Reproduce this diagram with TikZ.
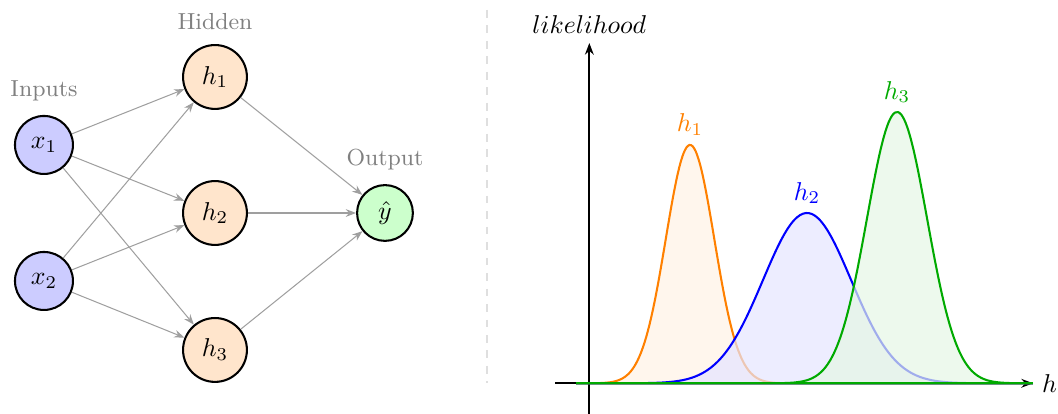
\documentclass[tikz,border=0pt]{standalone}
\usepackage{amsmath,amssymb}
\usepackage{tikz}
\usetikzlibrary{arrows.meta,positioning}
\definecolor{curvegreen}{RGB}{0,170,0}

\begin{document}
\begin{tikzpicture}[
    neuron/.style={circle, draw, thick, inner sep=0pt},
    inp/.style={neuron, fill=blue!20, minimum size=0.79cm},
    hid/.style={neuron, fill=orange!20, minimum size=0.87cm},
    outp/.style={neuron, fill=green!20, minimum size=0.76cm},
    layerlbl/.style={gray, font=\small},
    conn/.style={-{Stealth[length=4pt]}, gray!75},
    axisarr/.style={-{Stealth[length=4.5pt]}, thick}
  ]
  \useasboundingbox (0,0) rectangle (14.414,5.640);
  % network
  \node[inp] (x1) at (0.599,3.665) {$x_1$};
  \node[inp] (x2) at (0.599,1.812) {$x_2$};
  \node[hid] (h1) at (2.929,4.591) {$h_1$};
  \node[hid] (h2) at (2.929,2.738) {$h_2$};
  \node[hid] (h3) at (2.929,0.872) {$h_3$};
  \node[outp] (yhat) at (5.245,2.738) {$\hat{y}$};
  \node[layerlbl, above=2pt of x1] (lin) {Inputs};
  \node[layerlbl, above=2pt of h1] (lhid) {Hidden};
  \node[layerlbl, above=2pt of yhat] (lout) {Output};
  \foreach \i in {1,2}
    \foreach \j in {1,2,3}
      \draw[conn] (x\i) -- (h\j);
  \foreach \j in {1,2,3}
    \draw[conn] (h\j) -- (yhat);
  % separator
  \coordinate (septop) at (6.635,5.504);
  \coordinate (sepbot) at (6.635,0.422);
  \draw[gray!25, dashed] (septop) -- (sepbot);
  % likelihood curves
  \begin{scope}[shift={(8.029,0.418)}]
    \coordinate (xstart) at (-0.467,0);
    \coordinate (xend) at (6.045,0);
    \coordinate (ystart) at (0,-0.418);
    \coordinate (yend) at (0,4.636);
    \draw[axisarr] (xstart) -- (xend);
    \draw[axisarr] (ystart) -- (yend);
    \node[right] (hlbl) at (xend) {$h$};
    \node[above] (llbl) at (yend) {$likelihood$};
    \foreach \col/\mu/\sig/\amp/\k in {orange/1.372/0.33/3.247/1, blue/2.966/0.60/2.32/2, curvegreen/4.192/0.41/3.696/3} {
      \draw[\col, thick, fill=\col!10, fill opacity=0.7]
        plot[domain=-0.18:6.045, samples=150, smooth] (\x, {\amp*exp(-((\x-\mu)^2)/(2*\sig*\sig))}) -- cycle;
      \node[\col, above] (lbl\k) at (\mu,\amp) {$h_\k$};
    }
  \end{scope}
\end{tikzpicture}
\end{document}
